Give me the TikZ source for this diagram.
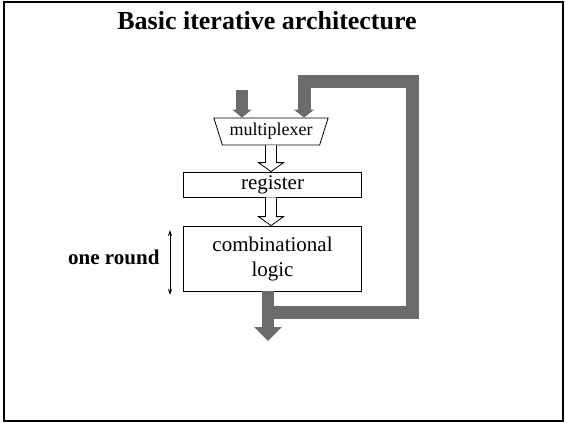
\documentclass[tikz,border=0pt]{standalone}
\usepackage{fontspec}
\setmainfont{Liberation Serif}
\usepackage{tikz}
\usetikzlibrary{calc,arrows.meta,shapes.geometric,positioning}
\definecolor{busgrey}{gray}{0.42}

% open (outlined) arrow pointing down, from #1 to #2
\newcommand{\hollowdown}[2]{%
  \draw[line width=0.8pt,fill=white] let \p1=(#1), \p2=(#2) in
    (\x1-5.5pt,\y1) -- (\x1-5.5pt,\y2+9pt) -- (\x1-12.5pt,\y2+9pt) -- (\x1,\y2)
    -- (\x1+12.5pt,\y2+9pt) -- (\x1+5.5pt,\y2+9pt) -- (\x1+5.5pt,\y1);}

\begin{document}
\begin{tikzpicture}[x=1pt,y=-1pt,font=\fontsize{21}{25}\selectfont]

\tikzset{box/.style={draw,line width=0.8pt,inner sep=0pt,minimum width=178pt},
muxnode/.style={draw,line width=0.8pt,shape=trapezium,shape border rotate=180,trapezium stretches=true,trapezium angle=66,minimum width=115pt,minimum height=27pt,inner sep=0pt,font=\fontsize{18}{20}\selectfont},
bus/.style={draw=busgrey,line width=12pt},
loopbus/.style={draw=busgrey,line width=13pt}}

\useasboundingbox (0,0) rectangle (566,423);

% Frame and title
\draw[line width=2pt] (4,2) rectangle (563,421);
\node (title) [anchor=base,font=\fontsize{26}{30}\selectfont\bfseries] at (267,30) {Basic iterative architecture};

% Blocks
\node (mux) [muxnode] at (271,131.5) {multiplexer};
\node (reg) [box,minimum height=25pt] at (272.5,184.5) {register};
\node (comb) [box,minimum height=65pt,align=center] at (272.5,258.5) {combinational\\logic};

% Data between blocks
\hollowdown{mux.south}{reg.north}
\hollowdown{reg.south -| mux.south}{comb.north}

% Input, output and feedback buses
\coordinate (in) at (242,90);
\coordinate (out) at (268,341);
\coordinate (tap) at (268,312);
\coordinate (loop) at (412,81);
\coordinate (fb) at (304,90);
\draw[bus,-{Triangle[width=19pt,length=8pt]}] (in) -- (in |- mux.north);
\draw[bus,-{Triangle[width=27pt,length=14pt]}] (out |- comb.south) -- (out);
\draw[loopbus,-{Triangle[width=20pt,length=8pt]}] (tap) -| (loop) -| (fb |- mux.north);

% Round marker
\node (round) [anchor=east,font=\fontsize{21}{25}\selectfont\bfseries] at (163,257) {one round};
\coordinate (rtop) at (170,230);
\coordinate (rbot) at (170,295);
\draw[line width=0.8pt,{Stealth[length=6pt,width=4pt]}-{Stealth[length=6pt,width=4pt]}] (rtop) -- (rbot);

\end{tikzpicture}
\end{document}
